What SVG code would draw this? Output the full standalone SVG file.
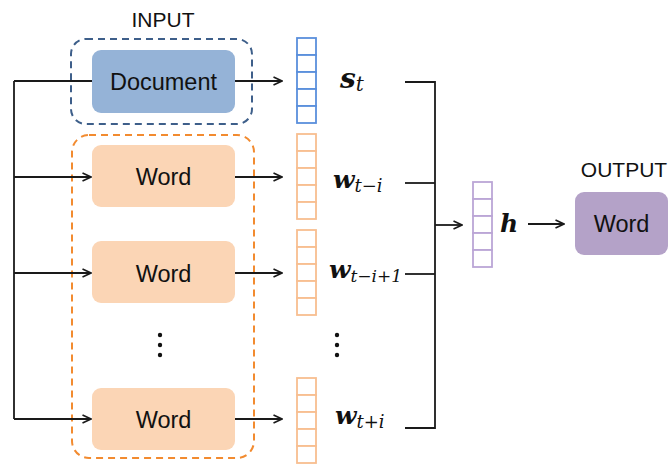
<svg xmlns="http://www.w3.org/2000/svg" width="670" height="464" viewBox="0 0 670 464">
  <style>
    .lbl { font-family: "Liberation Sans", Arial, sans-serif; fill: #111; text-anchor: middle; }
    .box-text { font-size: 23.5px; }
    .title { font-size: 21px; }
    .math { font-family: "DejaVu Serif", "Liberation Serif", serif; fill: #111; }
    .mv { font-weight: bold; font-style: italic; }
    .sub { font-style: italic; font-weight: normal; }
    .conn { stroke: #1a1a1a; stroke-width: 1.8; fill: none; }
    .vec-blue { fill: #fff; stroke: #5a8fdc; stroke-width: 1.8; }
    .vec-orange { fill: #fff; stroke: #f8be90; stroke-width: 1.8; }
    .vec-purple { fill: #fff; stroke: #bba6d6; stroke-width: 1.8; }
  </style>
  <defs>
    <marker id="arrow" viewBox="0 0 10 10" refX="9.5" refY="5" markerWidth="10" markerHeight="10" markerUnits="userSpaceOnUse" orient="auto">
      <path d="M1,1 L9.5,5 L1,9" fill="none" stroke="#1a1a1a" stroke-width="1.6"/>
    </marker>
    <!-- a five-cell column vector; colours are inherited from the using group -->
    <g id="cells">
      <rect x="0" y="0" width="19" height="17"/>
      <rect x="0" y="17" width="19" height="17"/>
      <rect x="0" y="34" width="19" height="17"/>
      <rect x="0" y="51" width="19" height="17"/>
      <rect x="0" y="68" width="19" height="17"/>
    </g>
  </defs>

  <!-- group frames -->
  <g id="input-group">
    <text class="lbl title" x="163" y="27">INPUT</text>
    <rect x="71" y="39" width="181" height="85" rx="15" fill="none" stroke="#3e5f8a" stroke-width="2" stroke-dasharray="7 5"/>
  </g>
  <g id="word-group">
    <rect x="72" y="135" width="182" height="323" rx="17" fill="none" stroke="#f28b30" stroke-width="2" stroke-dasharray="7 5"/>
  </g>

  <!-- connectors -->
  <g id="connectors">
    <path class="conn" d="M14,81 V419"/>
    <path class="conn" d="M14,81 H92"/>
    <path class="conn" d="M14,177 H91" marker-end="url(#arrow)"/>
    <path class="conn" d="M14,273 H91" marker-end="url(#arrow)"/>
    <path class="conn" d="M14,419 H91" marker-end="url(#arrow)"/>
    <path class="conn" d="M235,81 H282" marker-end="url(#arrow)"/>
    <path class="conn" d="M235,177 H282" marker-end="url(#arrow)"/>
    <path class="conn" d="M235,273 H282" marker-end="url(#arrow)"/>
    <path class="conn" d="M235,419 H282" marker-end="url(#arrow)"/>
    <path class="conn" d="M405,82 H435 V428 H405"/>
    <path class="conn" d="M405,183 H435"/>
    <path class="conn" d="M405,274 H435"/>
    <path class="conn" d="M435,225 H462" marker-end="url(#arrow)"/>
    <path class="conn" d="M528,224 H564" marker-end="url(#arrow)"/>
  </g>

  <!-- input nodes -->
  <g id="document">
    <rect x="92" y="50" width="143" height="63" rx="9" fill="#95b3d7"/>
    <text class="lbl box-text" x="163.5" y="90">Document</text>
  </g>
  <g id="word-1">
    <rect x="92" y="145" width="143" height="62" rx="9" fill="#fbd5b5"/>
    <text class="lbl box-text" x="163.5" y="185">Word</text>
  </g>
  <g id="word-2">
    <rect x="92" y="241" width="143" height="62" rx="9" fill="#fbd5b5"/>
    <text class="lbl box-text" x="163.5" y="282">Word</text>
  </g>
  <g id="word-dots">
    <circle cx="160" cy="335" r="2.2" fill="#111"/>
    <circle cx="160" cy="345" r="2.2" fill="#111"/>
    <circle cx="160" cy="355" r="2.2" fill="#111"/>
  </g>
  <g id="word-3">
    <rect x="92" y="388" width="143" height="62" rx="9" fill="#fbd5b5"/>
    <text class="lbl box-text" x="163.5" y="428">Word</text>
  </g>

  <!-- embedding vectors -->
  <g id="vec-s" class="vec-blue"><use href="#cells" x="297" y="38"/></g>
  <g id="vec-w1" class="vec-orange"><use href="#cells" x="297" y="134"/></g>
  <g id="vec-w2" class="vec-orange"><use href="#cells" x="297" y="230"/></g>
  <g id="vec-dots">
    <circle cx="337" cy="335" r="2.2" fill="#111"/>
    <circle cx="337" cy="345" r="2.2" fill="#111"/>
    <circle cx="337" cy="355" r="2.2" fill="#111"/>
  </g>
  <g id="vec-w3" class="vec-orange"><use href="#cells" x="297" y="378"/></g>

  <!-- vector labels -->
  <g id="label-s">
    <text class="math" x="340" y="88"><tspan class="mv" style="font-size:28px">s</tspan><tspan class="sub" style="font-size:20px" dy="3">t</tspan></text>
  </g>
  <g id="label-w1">
    <text class="math" x="333" y="188"><tspan class="mv" style="font-size:25px">w</tspan><tspan class="sub" style="font-size:18px" dy="4">t−i</tspan></text>
  </g>
  <g id="label-w2">
    <text class="math" x="329" y="278"><tspan class="mv" style="font-size:25px">w</tspan><tspan class="sub" style="font-size:17px" dy="4">t−i+1</tspan></text>
  </g>
  <g id="label-w3">
    <text class="math" x="335" y="424"><tspan class="mv" style="font-size:25px">w</tspan><tspan class="sub" style="font-size:18px" dy="4">t+i</tspan></text>
  </g>

  <!-- hidden state -->
  <g id="vec-h" class="vec-purple"><use href="#cells" x="473" y="182"/></g>
  <g id="label-h">
    <text class="math mv" x="500" y="232" style="font-size:25px">h</text>
  </g>

  <!-- output node -->
  <g id="output">
    <text class="lbl title" x="624" y="177">OUTPUT</text>
    <rect x="575" y="192" width="93" height="63" rx="9" fill="#b4a2c8"/>
    <text class="lbl box-text" x="621.5" y="232">Word</text>
  </g>
</svg>
